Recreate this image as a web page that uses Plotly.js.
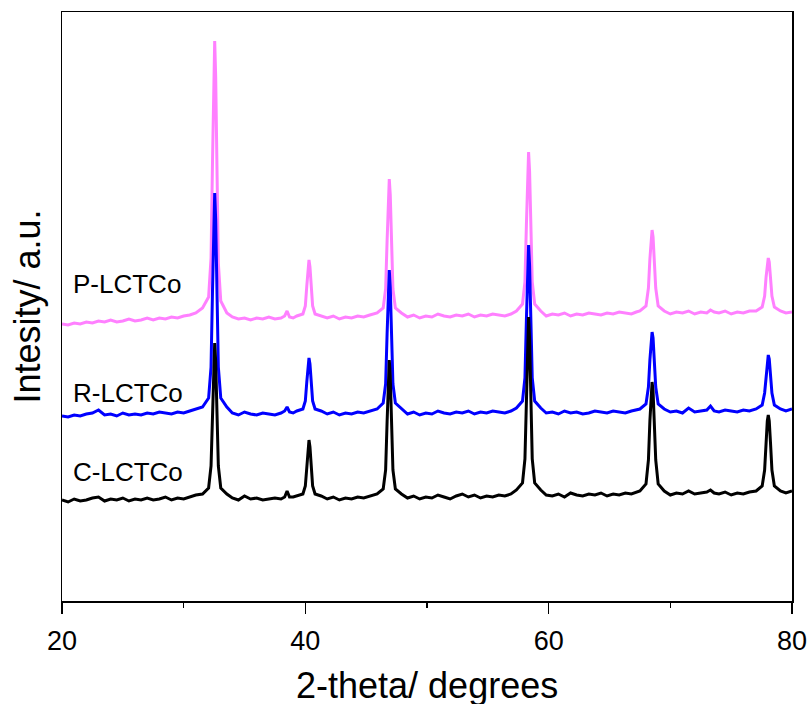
<!DOCTYPE html>
<html>
<head>
<meta charset="utf-8">
<script src="https://cdn.plot.ly/plotly-3.0.1.min.js"></script>
<style>html,body{margin:0;padding:0;background:#fff;}#chart{width:811px;height:704px;}</style>
</head>
<body>
<div id="chart"></div>
<script>
// 2-theta grid (degrees), shared by the three patterns
const twoTheta = [
  20,20.5,21,21.5,22,22.5,23,23.5,24,24.5,25,25.5,26,26.5,27,27.5,28,28.5,29,29.5,30,30.5,31,
  31.55,32.05,32.25,32.37,32.47,32.55,32.63,32.73,32.85,33.05,33.55,
  34,34.5,35,35.5,36,36.5,37,37.5,38,38.3,38.5,38.7,39,
  39.3,39.8,40.0,40.12,40.22,40.3,40.38,40.48,40.6,40.8,41.3,
  41.8,42.3,42.8,43.3,43.8,44.3,44.8,45.3,
  45.9,46.4,46.6,46.72,46.82,46.9,46.98,47.08,47.2,47.4,47.9,
  48.4,48.9,49.4,49.9,50.4,50.9,51.4,51.9,52.4,52.9,53.4,53.9,54.4,54.9,55.4,55.9,56.4,56.9,
  57.35,57.85,58.05,58.17,58.27,58.35,58.43,58.53,58.65,58.85,59.35,
  59.8,60.3,60.8,61.3,61.8,62.3,62.8,63.3,63.8,64.3,64.8,65.3,65.8,66.3,66.8,67.2,
  67.5,68.0,68.2,68.32,68.42,68.5,68.58,68.68,68.8,69.0,69.5,
  70,70.5,71,71.5,72,72.5,73,73.3,73.6,74,74.5,75,75.5,76,76.5,
  77.05,77.55,77.75,77.87,77.97,78.05,78.13,78.23,78.35,78.55,79.05,
  79.5,80
];

// C-LCTCo (black) intensity, a.u. (stacked offset included)
const cLCTCo = [
  101,99,102,100,101,103,104,100,102,101,103,100,102,101,103,101,102,104,101,103,102,104,106,
  107,113,135,189,240,258,240,189,135,113,107,
  103,101,105,102,103,101,102,103,102,104,110,104,104,
  105,107,115,135,154,161,154,135,115,107,105,
  102,104,101,103,102,104,103,105,
  107,112,131,179,225,241,225,179,131,112,107,
  103,105,102,104,103,106,104,102,105,107,104,106,103,105,104,106,105,107,
  111,118,142,204,263,284,263,204,142,118,111,
  106,105,107,104,108,106,105,107,106,108,105,107,106,108,107,109,
  110,117,141,180,210,219,210,180,141,117,110,
  106,108,107,110,107,108,109,111,108,107,109,106,108,107,109,
  110,115,131,159,180,186,180,159,131,115,110,
  108,110
];

// R-LCTCo (blue)
const rLCTCo = [
  185,184,186,185,187,188,191,186,187,185,188,186,187,186,188,187,189,188,187,189,188,190,192,
  194,203,234,310,382,408,382,310,234,203,194,
  188,186,189,187,186,188,187,186,188,190,194,189,188,
  190,192,200,219,237,243,237,219,200,192,190,
  187,189,186,188,187,189,188,190,
  192,198,217,267,314,331,314,267,217,198,192,
  187,189,186,188,187,190,188,187,189,188,190,187,189,188,190,189,188,190,
  193,200,223,281,336,356,336,281,223,200,193,
  188,189,187,190,188,189,187,188,190,189,188,190,189,188,190,191,
  192,197,214,241,263,269,263,241,214,197,192,
  189,190,188,193,189,190,191,195,190,189,191,190,189,191,190,
  192,196,208,227,242,246,242,227,208,196,192,
  190,192
];

// P-LCTCo (pink)
const pLCTCo = [
  277,276,278,277,279,278,280,279,281,279,280,282,280,281,283,281,283,282,284,283,285,286,288,
  293,304,343,439,530,560,525,434,338,300,288,
  284,282,283,281,283,282,284,282,283,285,290,284,283,
  285,287,295,315,334,341,334,315,295,287,285,
  283,285,282,284,283,285,284,286,
  288,293,312,360,406,422,406,360,312,293,288,
  284,286,283,285,284,287,285,284,286,285,287,284,286,285,287,286,285,287,
  290,297,319,376,430,449,430,376,319,297,290,
  285,287,286,288,285,287,286,288,287,286,288,287,289,288,287,289,
  290,295,313,342,364,371,364,342,313,295,290,
  287,289,288,290,287,289,288,291,289,288,290,287,289,288,290,
  290,294,305,324,339,343,339,324,305,294,290,
  288,289
];

const seriesNames = ['P-LCTCo', 'R-LCTCo', 'C-LCTCo'];
const seriesColors = ['#FF80FF', '#0000FF', '#000000'];
const seriesData = [pLCTCo, rLCTCo, cLCTCo];
const labelY = [317, 208, 129];

const xTicks = [20, 40, 60, 80];
const xMinorTicks = [30, 50, 70];
const xTitle = '2-theta/ degrees';
const yTitle = 'Intesity/ a.u.';

const FONT = 'Arial, "Liberation Sans", sans-serif';

const traces = seriesData.map((ys, i) => ({
  x: twoTheta, y: ys, type: 'scatter', mode: 'lines', name: seriesNames[i],
  line: {color: seriesColors[i], width: 3}, hoverinfo: 'skip'
}));

const annotations = seriesNames.map((n, i) => ({
  text: n, xref: 'x', yref: 'y', x: 20.75, y: labelY[i], xanchor: 'left', yanchor: 'middle',
  showarrow: false, font: {family: FONT, size: 26, color: '#000'}
}));
annotations.push({
  text: xTitle, xref: 'paper', yref: 'paper', x: 0.5, y: 0, xanchor: 'center', yanchor: 'middle',
  yshift: -84, showarrow: false, font: {family: FONT, size: 36, color: '#000'}
});
annotations.push({
  text: yTitle, xref: 'paper', yref: 'paper', x: 0, y: 0.5, xanchor: 'center', yanchor: 'middle',
  xshift: -35, textangle: -90, showarrow: false, font: {family: FONT, size: 36, color: '#000'}
});

const layout = {
  width: 811, height: 704,
  margin: {l: 62, r: 19, t: 12, b: 103, pad: 0},
  paper_bgcolor: '#fff', plot_bgcolor: '#fff',
  showlegend: false,
  xaxis: {
    range: [20, 80], tickmode: 'array', tickvals: xTicks, ticktext: xTicks.map(String),
    ticks: 'outside', ticklen: 11, tickwidth: 1.5, tickcolor: '#000',
    ticklabelstandoff: 4,
    minor: {tickvals: xMinorTicks, ticks: 'outside', ticklen: 5, tickwidth: 1.5, tickcolor: '#000'},
    showline: true, linecolor: '#000', linewidth: 1.5, mirror: true,
    showgrid: false, zeroline: false,
    tickfont: {family: FONT, size: 27, color: '#000'}
  },
  yaxis: {
    range: [0, 589], showticklabels: false, ticks: '',
    showline: true, linecolor: '#000', linewidth: 1.5, mirror: true,
    showgrid: false, zeroline: false
  },
  annotations: annotations
};

Plotly.newPlot('chart', traces, layout, {displayModeBar: false, staticPlot: true});
</script>
</body>
</html>
